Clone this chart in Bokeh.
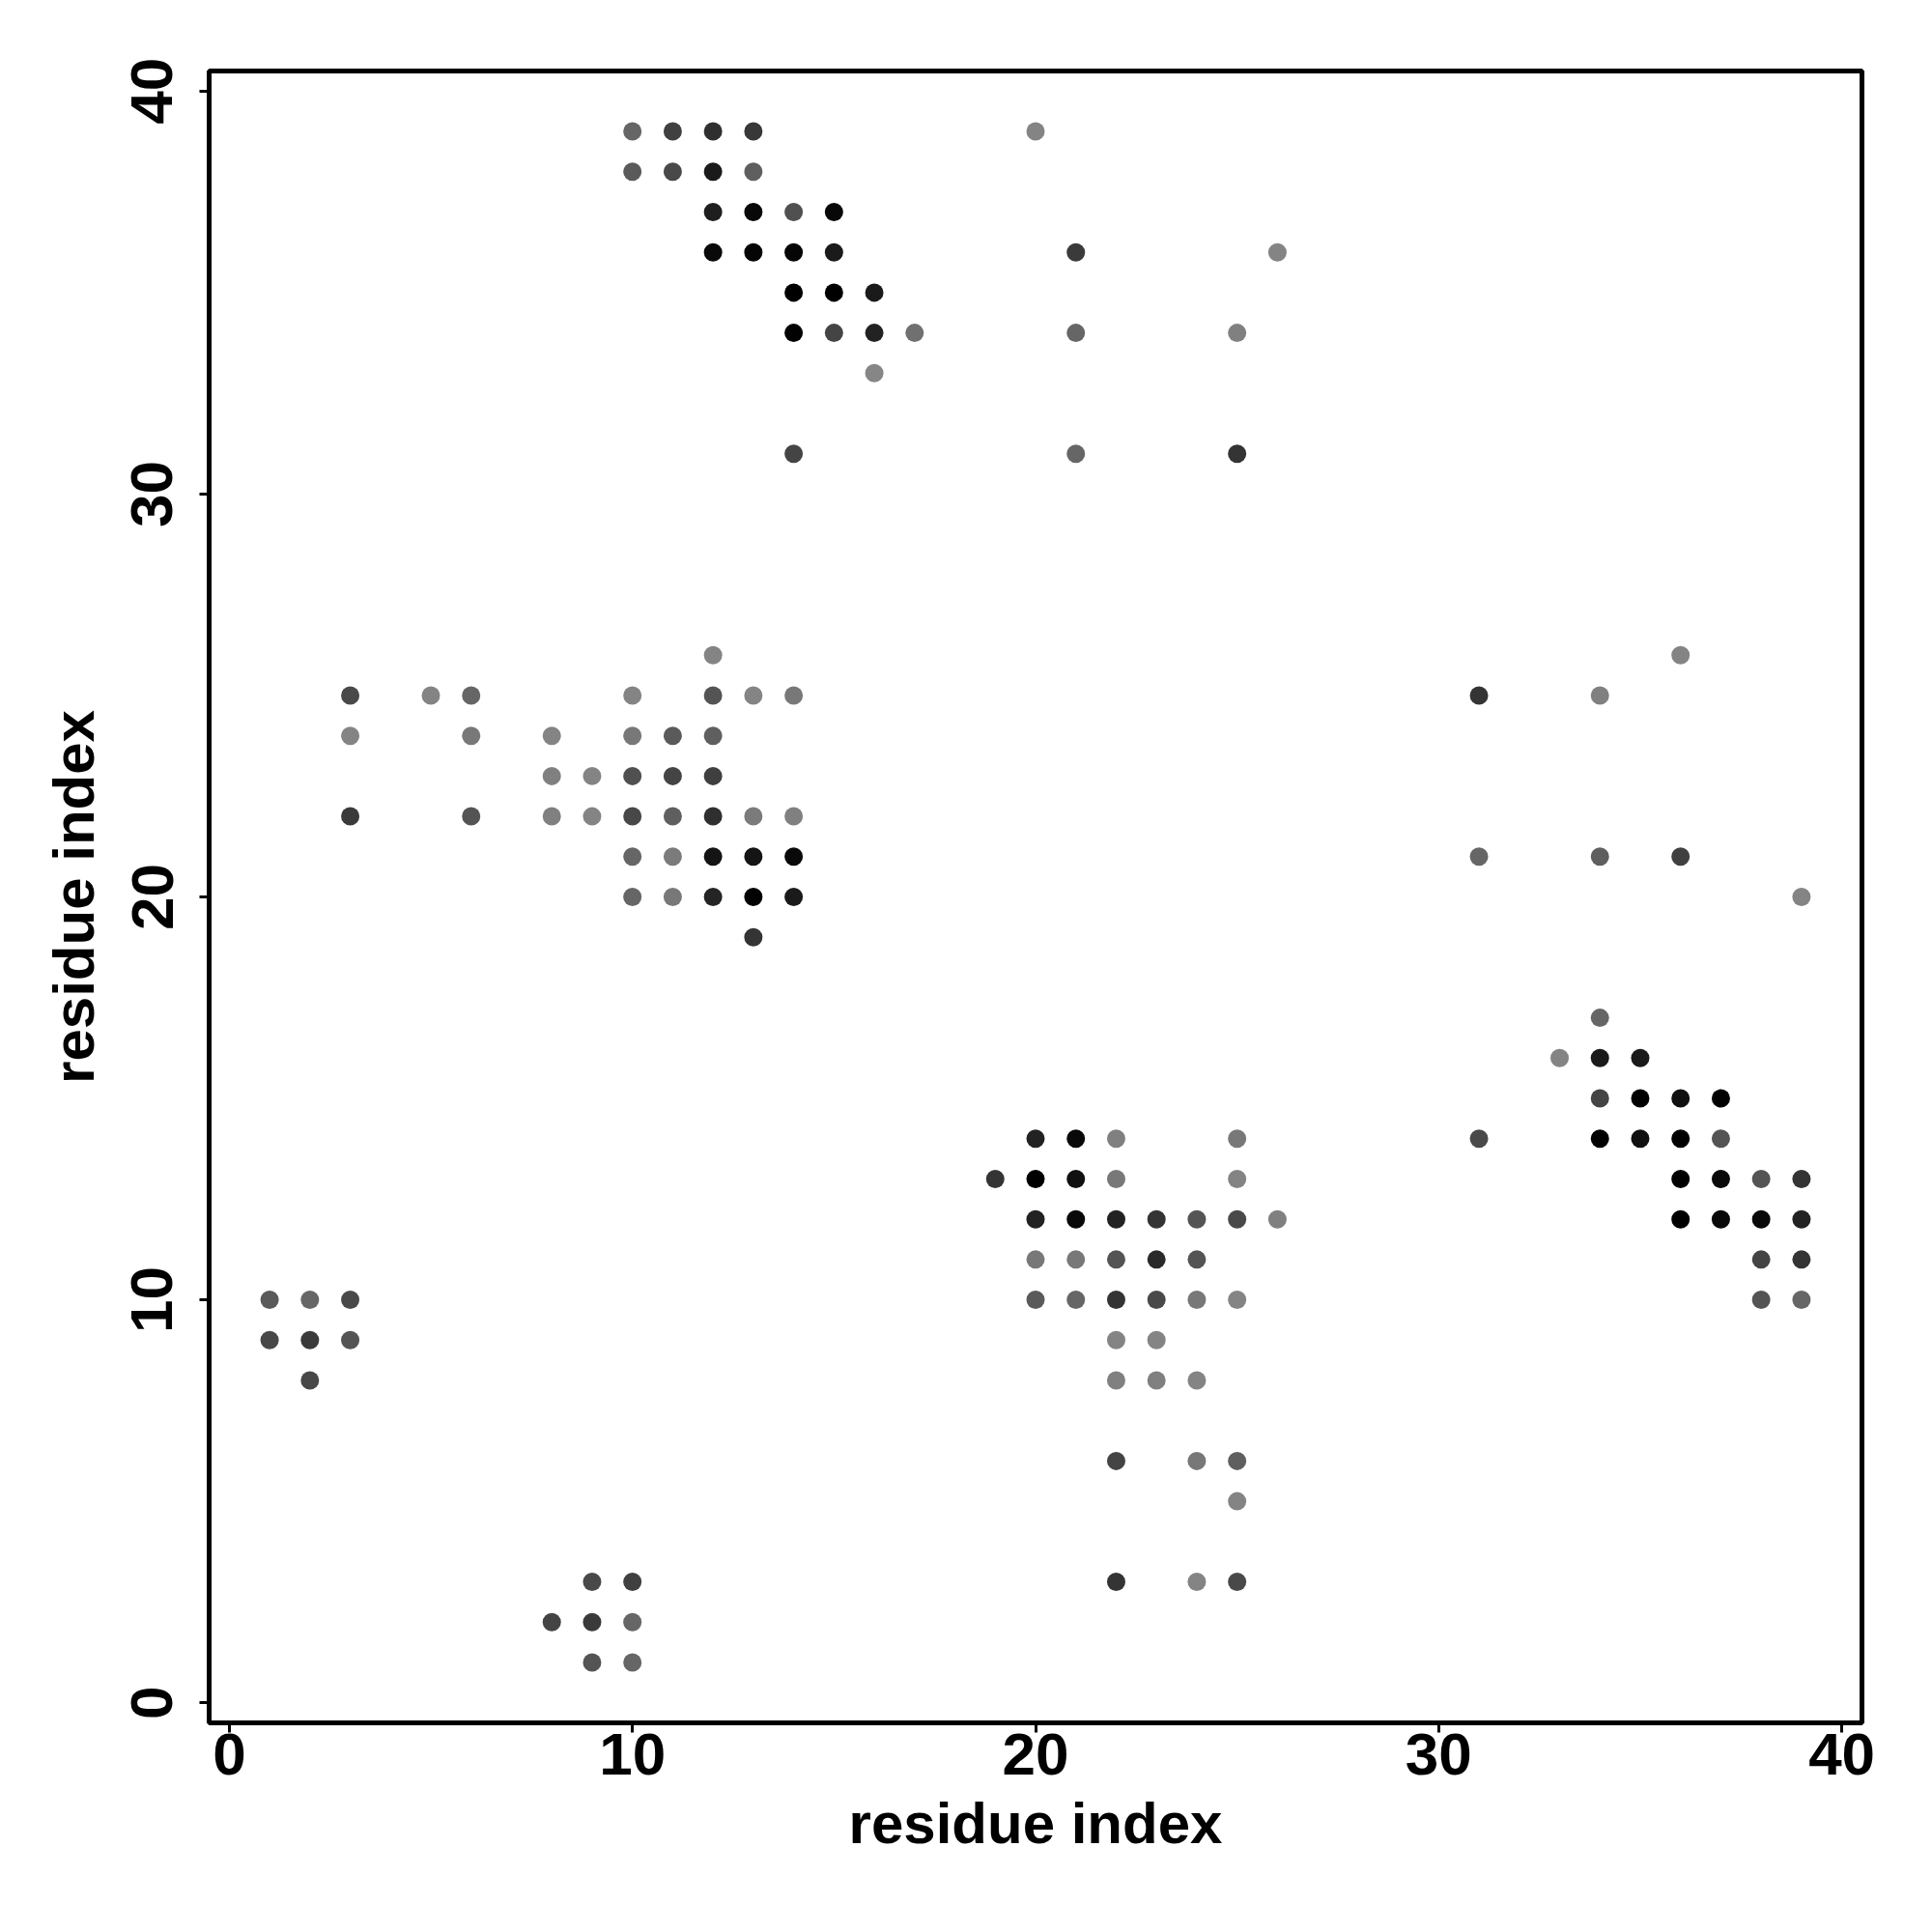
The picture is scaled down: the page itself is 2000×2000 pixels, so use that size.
from bokeh.plotting import figure
from bokeh.models import Range1d, LinearColorMapper, FixedTicker, ColumnDataSource
from bokeh.embed import file_html
from bokeh.resources import INLINE

# residue pairs (i, j) and contact score (1 = strongest / darkest)
res_i = [
    10, 11, 12, 13, 10, 11, 12, 13, 12, 13, 14, 15, 12, 13, 14, 15, 14, 15, 16, 14, 15, 16, 17, 16, 14,
    20, 21, 26, 21, 25, 21, 25,
    12, 3, 5, 6, 10, 12, 13, 14, 3, 6, 8, 10, 11, 12, 8, 9, 10, 11, 12,
    3, 6, 8, 9, 10, 11, 12, 13, 14, 10, 11, 12, 13, 14, 10, 11, 12, 13, 14, 13,
    36, 31, 34, 31, 34, 36, 39, 34, 33, 34, 35, 34, 35, 36, 37, 31, 34, 35, 36, 37,
    36, 37, 38, 39, 36, 37, 38, 39, 38, 39, 38, 39,
    20, 21, 22, 25, 19, 20, 21, 22, 25, 20, 21, 22, 23, 24, 25, 26, 20, 21, 22, 23, 24,
    20, 21, 22, 23, 24, 25, 22, 23, 22, 23, 24, 22, 24, 25, 25, 22, 24, 25,
    1, 2, 3, 1, 2, 3, 2, 9, 10, 8, 9, 10, 9, 10,
]
res_j = [
    39, 39, 39, 39, 38, 38, 38, 38, 37, 37, 37, 37, 36, 36, 36, 36, 35, 35, 35, 34, 34, 34, 34, 33, 31,
    39, 36, 36, 34, 34, 31, 31,
    26, 25, 25, 25, 25, 25, 25, 25, 24, 24, 24, 24, 24, 24, 23, 23, 23, 23, 23,
    22, 22, 22, 22, 22, 22, 22, 22, 22, 21, 21, 21, 21, 21, 20, 20, 20, 20, 20, 19,
    26, 25, 25, 21, 21, 21, 20, 17, 16, 16, 16, 15, 15, 15, 15, 14, 14, 14, 14, 14,
    13, 13, 13, 13, 12, 12, 12, 12, 11, 11, 10, 10,
    14, 14, 14, 14, 13, 13, 13, 13, 13, 12, 12, 12, 12, 12, 12, 12, 11, 11, 11, 11, 11,
    10, 10, 10, 10, 10, 10, 9, 9, 8, 8, 8, 6, 6, 6, 5, 3, 3, 3,
    10, 10, 10, 9, 9, 9, 8, 3, 3, 2, 2, 2, 1, 1,
]
score = [
    0.25, 0.53, 0.65, 0.59, 0.34, 0.46, 0.81, 0.30, 0.78, 0.94, 0.41, 0.94, 0.93, 0.96, 0.96, 0.81, 1.00, 1.00, 0.81, 0.98, 0.50, 0.75, 0.18, 0.02, 0.50,
    0.03, 0.57, 0.03, 0.25, 0.06, 0.25, 0.62,
    0.03, 0.46, 0.03, 0.25, 0.03, 0.38, 0.03, 0.12, 0.03, 0.12, 0.03, 0.12, 0.34, 0.30, 0.06, 0.03, 0.41, 0.50, 0.54,
    0.57, 0.38, 0.06, 0.03, 0.47, 0.30, 0.65, 0.10, 0.06, 0.25, 0.10, 0.85, 0.85, 0.93, 0.25, 0.12, 0.73, 0.98, 0.81, 0.62,
    0.03, 0.62, 0.06, 0.25, 0.30, 0.53, 0.03, 0.25, 0.03, 0.81, 0.81, 0.50, 1.00, 0.88, 0.98, 0.46, 1.00, 0.88, 1.00, 0.38,
    1.00, 0.93, 0.38, 0.62, 1.00, 0.93, 0.93, 0.75, 0.50, 0.62, 0.38, 0.25,
    0.75, 0.93, 0.06, 0.12, 0.62, 1.00, 0.88, 0.12, 0.03, 0.75, 0.93, 0.75, 0.62, 0.38, 0.46, 0.06, 0.12, 0.12, 0.38, 0.69, 0.38,
    0.34, 0.25, 0.62, 0.46, 0.12, 0.03, 0.03, 0.03, 0.06, 0.06, 0.03, 0.50, 0.12, 0.30, 0.03, 0.62, 0.03, 0.46,
    0.34, 0.25, 0.46, 0.47, 0.57, 0.38, 0.47, 0.46, 0.53, 0.50, 0.57, 0.25, 0.38, 0.25,
]
ticks = [0, 10, 20, 30, 40]
axis_title = "residue index"

# grey palette: light grey (#888888) for weak contacts to black for strong ones
palette = ["#%02x%02x%02x" % (g, g, g) for g in range(136, -1, -1)]
mapper = LinearColorMapper(palette=palette, low=0.0, high=1.0)

src = ColumnDataSource(dict(x=res_i, y=res_j, s=score))

p = figure(width=1984, height=1984, output_backend="svg", toolbar_location=None,
           x_range=Range1d(-0.5, 40.5), y_range=Range1d(-0.5, 40.5),
           min_border_left=216, min_border_right=57, min_border_top=73, min_border_bottom=201,
           background_fill_color="white", border_fill_color="white")

p.scatter("x", "y", source=src, size=19, marker="circle",
          fill_color={"field": "s", "transform": mapper}, line_color=None)

p.xgrid.grid_line_color = None
p.ygrid.grid_line_color = None
p.outline_line_color = "black"
p.outline_line_width = 5
p.outline_line_alpha = 1.0

for ax in (p.xaxis[0], p.yaxis[0]):
    ax.ticker = FixedTicker(ticks=ticks)
    ax.axis_line_color = None
    ax.minor_tick_line_color = None
    ax.major_tick_line_color = "black"
    ax.major_tick_line_width = 3
    ax.major_tick_in = 0
    ax.major_tick_out = 10
    ax.major_label_text_font = "Liberation Sans"
    ax.major_label_text_font_size = "62px"
    ax.major_label_text_font_style = "bold"
    ax.major_label_text_color = "black"
    ax.axis_label = axis_title
    ax.axis_label_text_font = "Liberation Sans"
    ax.axis_label_text_font_size = "60px"
    ax.axis_label_text_font_style = "bold"
    ax.axis_label_text_color = "black"

p.xaxis.major_label_standoff = 1
p.xaxis.axis_label_standoff = 14
p.yaxis.major_label_orientation = "vertical"
p.yaxis.major_label_standoff = 28
p.yaxis.axis_label_standoff = 24

open("out.html", "w").write(file_html(p, INLINE))
